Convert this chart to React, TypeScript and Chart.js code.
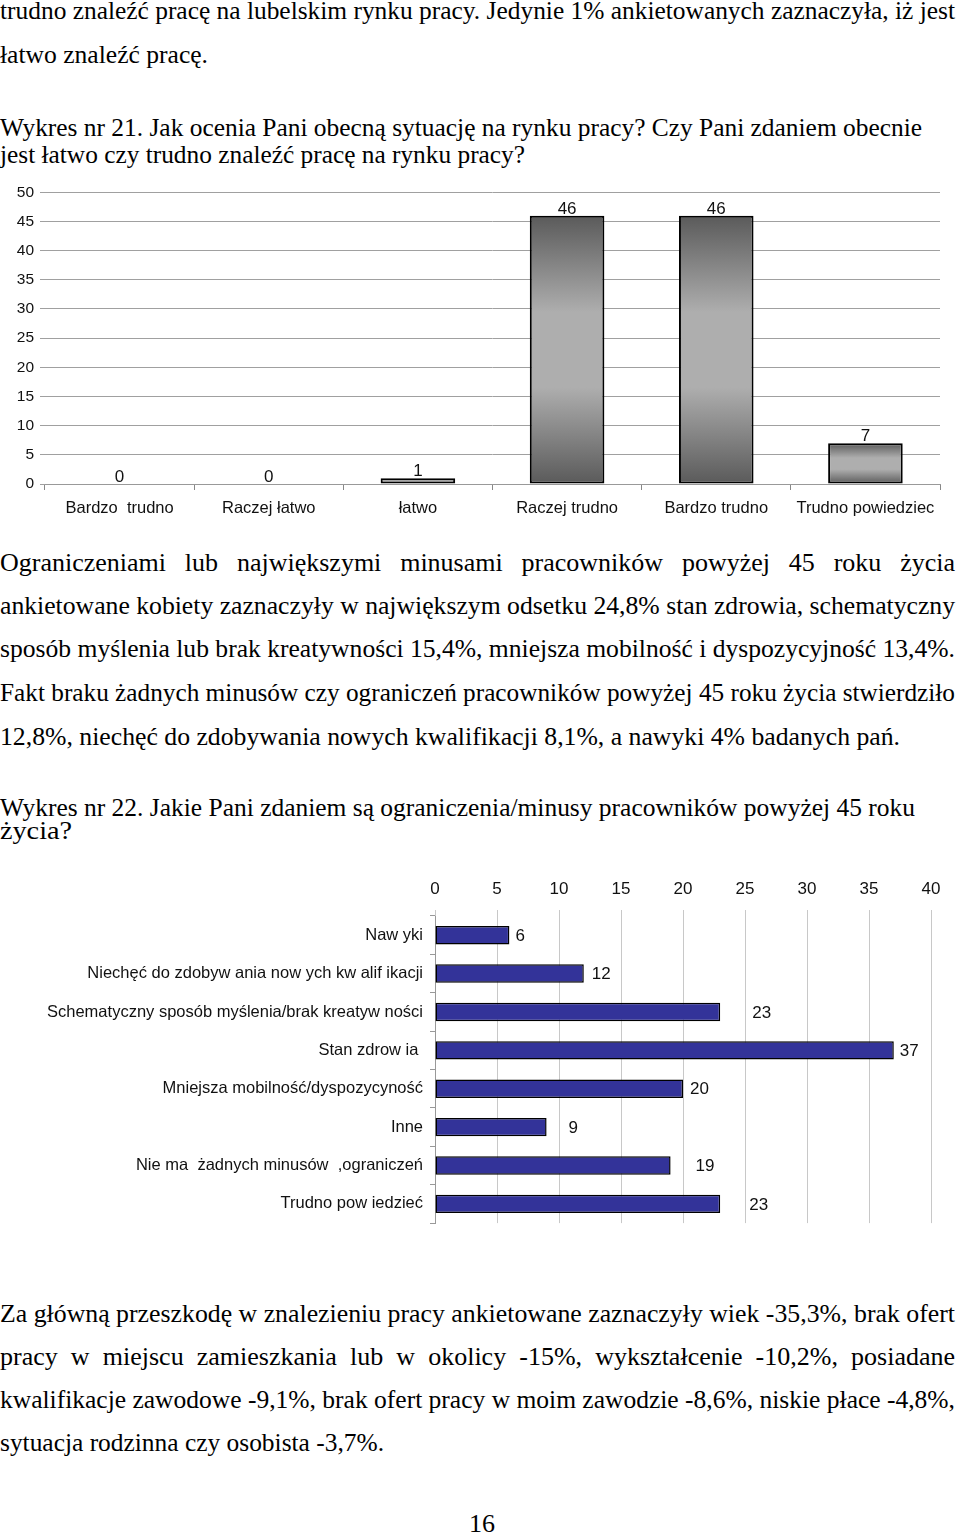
import React, { useEffect, useMemo, useRef } from "react";
import { Chart, registerables } from "chart.js";

Chart.register(...registerables);

// ---------- data ----------
const situationCategories = [
  "Bardzo  trudno",
  "Raczej łatwo",
  "łatwo",
  "Raczej trudno",
  "Bardzo trudno",
  "Trudno powiedziec",
];
const situationValues = [0, 0, 1, 46, 46, 7];
const situationAxisMax = 50;
const situationAxisStep = 5;

const limitCategories = [
  "Naw yki",
  "Niechęć do zdobyw ania now ych kw alif ikacji",
  "Schematyczny sposób myślenia/brak kreatyw ności",
  "Stan zdrow ia ",
  "Mniejsza mobilność/dyspozycyność",
  "Inne",
  "Nie ma  żadnych minusów  ,ograniczeń",
  "Trudno pow iedzieć",
];
const limitValues = [6, 12, 23, 37, 20, 9, 19, 23];
const limitAxisMax = 40;
const limitAxisStep = 5;

// label gap (px) after each bar end, as placed in the original
const limitLabelGaps = [6, 8, 32, 6, 7, 22, 25, 29];

const SANS = '"Liberation Sans", Arial, sans-serif';
const SERIF = '"Liberation Serif", "Times New Roman", serif';

// ---------- text line ----------
type LineProps = { text: string; baseline: number; width: number; mode?: "justify" | "fit"; size?: number; left?: number };
function Line({ text, baseline, width, mode = "fit", size = 26, left = 0 }: LineProps) {
  const { scale, wordSpacing } = useMemo(() => {
    const c = document.createElement("canvas").getContext("2d")!;
    c.font = `${size}px ${SERIF}`;
    const w = c.measureText(text).width;
    const spaces = (text.match(/ /g) || []).length;
    if (mode === "justify" && w < width && spaces > 0) {
      return { scale: 1, wordSpacing: (width - w) / spaces };
    }
    return { scale: width / w, wordSpacing: 0 };
  }, [text, width, mode, size]);
  const lh = 30;
  const top = baseline - Math.round((lh - size * 1.107) / 2 + size * 0.891);
  return (
    <div
      style={{
        position: "absolute",
        left,
        top,
        whiteSpace: "pre",
        fontFamily: SERIF,
        fontSize: size,
        lineHeight: `${lh}px`,
        color: "#000",
        wordSpacing: `${wordSpacing}px`,
        transform: `scaleX(${scale})`,
        transformOrigin: "0 0",
      }}
    >
      {text}
    </div>
  );
}

// ---------- chart 1 ----------
function SituationChart() {
  const ref = useRef<HTMLCanvasElement>(null);
  useEffect(() => {
    if (!ref.current) return;
    const valueLabels = {
      id: "valueLabels1",
      afterDatasetsDraw(chart: any) {
        const ctx = chart.ctx;
        const meta = chart.getDatasetMeta(0);
        ctx.save();
        ctx.font = `17px ${SANS}`;
        ctx.fillStyle = "#111";
        ctx.textAlign = "center";
        ctx.textBaseline = "alphabetic";
        meta.data.forEach((el: any, i: number) => {
          ctx.fillText(String(situationValues[i]), el.x, el.y - 2);
        });
        ctx.restore();
      },
    };
    const chart = new Chart(ref.current, {
      type: "bar",
      data: {
        labels: situationCategories,
        datasets: [
          {
            data: situationValues,
            backgroundColor: (c: any) => {
              const ch = c.chart;
              if (!ch.chartArea || c.type !== "data") return "#9a9a9a";
              const y = ch.scales.y;
              const top = y.getPixelForValue(c.raw);
              const base = y.getPixelForValue(0);
              if (base - top < 10) return "#9c9c9c";
              const g = ch.ctx.createLinearGradient(0, top, 0, base);
              g.addColorStop(0, "#5a5a5a");
              g.addColorStop(0.36, "#aeaeae");
              g.addColorStop(0.64, "#aeaeae");
              g.addColorStop(1, "#5a5a5a");
              return g;
            },
            borderColor: "#000",
            borderWidth: 2,
            borderSkipped: false,
            barPercentage: 0.5,
            categoryPercentage: 1,
          },
        ],
      },
      options: {
        responsive: false,
        animation: false,
        layout: { padding: { top: 9, right: 20, left: 0, bottom: 0 } },
        plugins: { legend: { display: false }, tooltip: { enabled: false } },
        scales: {
          x: {
            grid: { offset: true, drawOnChartArea: false, tickLength: 6, color: "#888" },
            border: { display: true, color: "#999" },
            ticks: { color: "#111", font: { size: 16.5, family: SANS }, padding: 9, maxRotation: 0, autoSkip: false },
            afterFit: (s: any) => {
              s.height = 41;
            },
          },
          y: {
            min: 0,
            max: situationAxisMax,
            ticks: { stepSize: situationAxisStep, color: "#111", font: { size: 15.5, family: SANS }, padding: 6 },
            grid: { color: "#a0a0a0", tickLength: 5 },
            border: { display: false },
            afterFit: (s: any) => {
              s.width = 45;
            },
          },
        },
      },
      plugins: [valueLabels],
    } as any);
    return () => chart.destroy();
  }, []);
  return (
    <div style={{ position: "absolute", left: 0, top: 177, width: 960, height: 348 }}>
      <canvas ref={ref} width={960} height={348} style={{ display: "block" }} />
    </div>
  );
}

// ---------- chart 2 ----------
function LimitChart() {
  const ref = useRef<HTMLCanvasElement>(null);
  useEffect(() => {
    if (!ref.current) return;
    const valueLabels = {
      id: "valueLabels2",
      afterDatasetsDraw(chart: any) {
        const ctx = chart.ctx;
        const meta = chart.getDatasetMeta(0);
        ctx.save();
        ctx.font = `17px ${SANS}`;
        ctx.fillStyle = "#111";
        ctx.textAlign = "left";
        ctx.textBaseline = "middle";
        meta.data.forEach((el: any, i: number) => {
          ctx.fillText(String(limitValues[i]), el.x + limitLabelGaps[i], el.y + 1);
        });
        ctx.restore();
      },
    };
    const chart = new Chart(ref.current, {
      type: "bar",
      data: {
        labels: limitCategories,
        datasets: [
          {
            data: limitValues,
            backgroundColor: "#333399",
            borderColor: "#000",
            borderWidth: 1.5,
            borderSkipped: false,
            barPercentage: 0.48,
            categoryPercentage: 1,
          },
        ],
      },
      options: {
        indexAxis: "y",
        responsive: false,
        animation: false,
        layout: { padding: { top: 0, right: 29, left: 0, bottom: 10 } },
        plugins: { legend: { display: false }, tooltip: { enabled: false } },
        scales: {
          x: {
            position: "top",
            min: 0,
            max: limitAxisMax,
            ticks: { stepSize: limitAxisStep, color: "#111", font: { size: 17, family: SANS }, padding: 10 },
            grid: { color: "#c8c8c8", tickLength: 6 },
            border: { display: false },
            afterFit: (s: any) => {
              s.height = 46;
            },
          },
          y: {
            grid: { offset: true, drawOnChartArea: false, tickLength: 5, color: "#999" },
            border: { display: true, color: "#999" },
            ticks: { color: "#111", font: { size: 16.5, family: SANS }, padding: 7, autoSkip: false },
            afterFit: (s: any) => {
              s.width = 435;
            },
          },
        },
      },
      plugins: [valueLabels],
    } as any);
    return () => chart.destroy();
  }, []);
  return (
    <div style={{ position: "absolute", left: 0, top: 870, width: 960, height: 370 }}>
      <canvas ref={ref} width={960} height={370} style={{ display: "block" }} />
    </div>
  );
}

export default function App() {
  return (
    <div style={{ position: "absolute", left: 0, top: 0, width: 960, height: 1537, background: "#fff", overflow: "hidden" }}>
      <Line text="trudno znaleźć pracę na lubelskim rynku pracy. Jedynie 1% ankietowanych zaznaczyła, iż jest" baseline={20} width={955} mode="justify" />
      <Line text="łatwo znaleźć pracę." baseline={64} width={208} />
      <Line text="Wykres nr 21. Jak ocenia Pani obecną sytuację na rynku pracy? Czy Pani zdaniem obecnie" baseline={137} width={922} />
      <Line text="jest łatwo czy trudno znaleźć pracę na rynku pracy?" baseline={164} width={525} />

      <SituationChart />

      <Line text="Ograniczeniami lub największymi minusami pracowników powyżej 45 roku życia" baseline={572} width={955} mode="justify" />
      <Line text="ankietowane kobiety zaznaczyły w największym odsetku 24,8% stan zdrowia, schematyczny" baseline={615} width={955} mode="justify" />
      <Line text="sposób myślenia lub brak kreatywności 15,4%, mniejsza mobilność i dyspozycyjność 13,4%." baseline={658} width={955} mode="justify" />
      <Line text="Fakt braku żadnych minusów czy ograniczeń pracowników powyżej 45 roku życia stwierdziło" baseline={702} width={955} mode="justify" />
      <Line text="12,8%, niechęć do zdobywania nowych kwalifikacji 8,1%, a nawyki 4% badanych pań." baseline={746} width={900} />

      <Line text="Wykres nr 22. Jakie Pani zdaniem są ograniczenia/minusy pracowników powyżej 45 roku" baseline={817} width={915} />
      <Line text="życia?" baseline={840} width={72} />

      <LimitChart />

      <Line text="Za główną przeszkodę w znalezieniu pracy ankietowane zaznaczyły wiek -35,3%, brak ofert" baseline={1323} width={955} mode="justify" />
      <Line text="pracy w miejscu zamieszkania lub w okolicy -15%, wykształcenie -10,2%, posiadane" baseline={1366} width={955} mode="justify" />
      <Line text="kwalifikacje zawodowe -9,1%, brak ofert pracy w moim zawodzie -8,6%, niskie płace -4,8%," baseline={1409} width={955} mode="justify" />
      <Line text="sytuacja rodzinna czy osobista -3,7%." baseline={1452} width={384} />

      <div
        style={{
          position: "absolute",
          left: 0,
          top: 1533 - 24,
          width: 964,
          textAlign: "center",
          fontFamily: SERIF,
          fontSize: 26,
          lineHeight: "30px",
        }}
      >
        16
      </div>
    </div>
  );
}
